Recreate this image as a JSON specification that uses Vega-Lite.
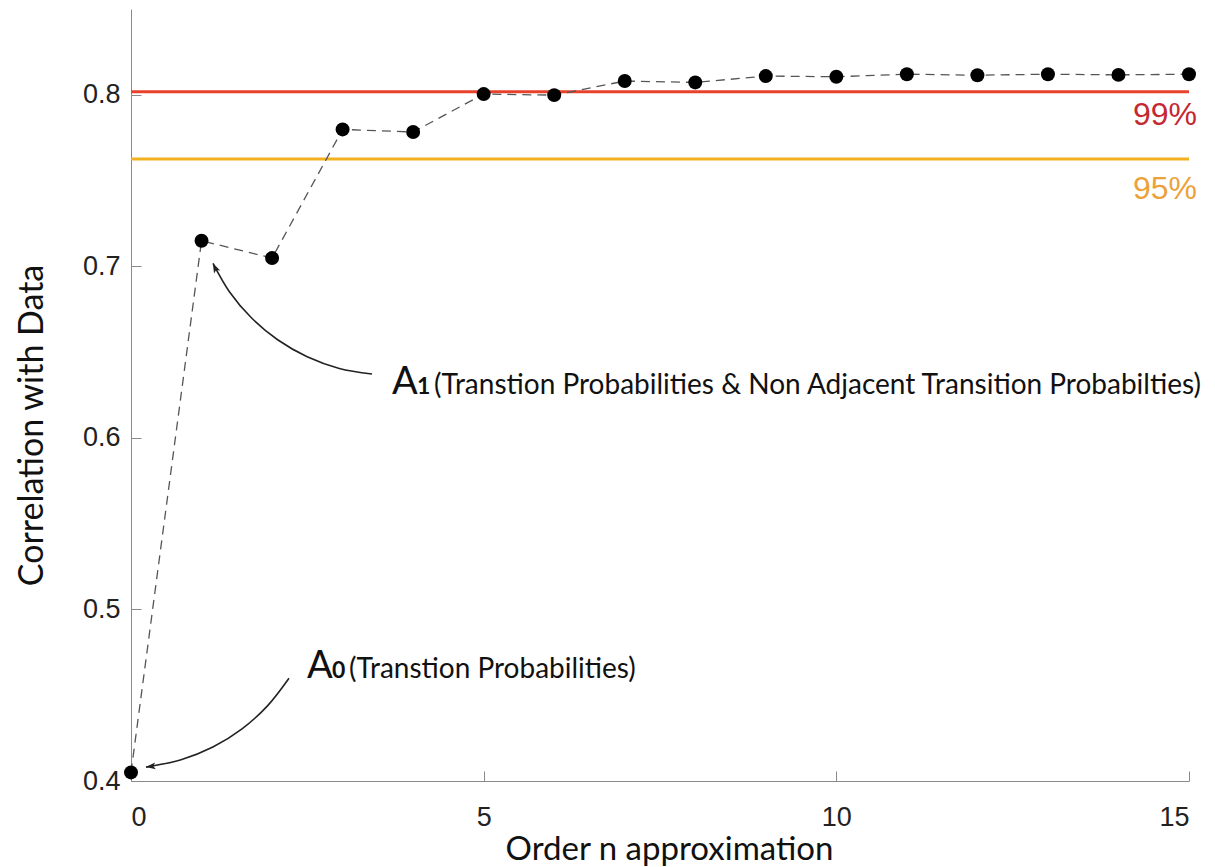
{
  "$schema": "https://vega.github.io/schema/vega-lite/v6.json",
  "width": 1058,
  "height": 772,
  "autosize": {"type": "none"},
  "padding": {"left": 131, "top": 9, "right": 26, "bottom": 86},
  "background": "white",
  "config": {"view": {"stroke": null}},
  "datasets": {
    "series": [
      {"n": 0, "corr": 0.4050},
      {"n": 1, "corr": 0.7149},
      {"n": 2, "corr": 0.7048},
      {"n": 3, "corr": 0.7798},
      {"n": 4, "corr": 0.7783},
      {"n": 5, "corr": 0.8004},
      {"n": 6, "corr": 0.7998},
      {"n": 7, "corr": 0.8080},
      {"n": 8, "corr": 0.8072},
      {"n": 9, "corr": 0.8109},
      {"n": 10, "corr": 0.8105},
      {"n": 11, "corr": 0.8120},
      {"n": 12, "corr": 0.8114},
      {"n": 13, "corr": 0.8120},
      {"n": 14, "corr": 0.8116},
      {"n": 15, "corr": 0.8120}
    ],
    "thresholds": [
      {"level": "99%", "value": 0.8017, "labelY": 0.7826},
      {"level": "95%", "value": 0.7626, "labelY": 0.7395}
    ],
    "arrows": [
      {"id": "A1", "x": 3.417, "y": 0.6372},
      {"id": "A1", "x": 2.953, "y": 0.6405},
      {"id": "A1", "x": 2.498, "y": 0.6473},
      {"id": "A1", "x": 2.079, "y": 0.6572},
      {"id": "A1", "x": 1.707, "y": 0.6700},
      {"id": "A1", "x": 1.395, "y": 0.6852},
      {"id": "A1", "x": 1.163, "y": 0.7017},
      {"id": "A0", "x": 2.240, "y": 0.4599},
      {"id": "A0", "x": 1.935, "y": 0.4438},
      {"id": "A0", "x": 1.574, "y": 0.4304},
      {"id": "A0", "x": 1.161, "y": 0.4198},
      {"id": "A0", "x": 0.710, "y": 0.4124},
      {"id": "A0", "x": 0.213, "y": 0.4081}
    ],
    "heads": [
      {"id": "A1", "x": 1.193, "y": 0.6991},
      {"id": "A0", "x": 0.284, "y": 0.4085}
    ],
    "notes": [
      {"id": "A1", "A": "A", "sub": "1", "desc": "(Transtion Probabilities & Non Adjacent Transition Probabilties)", "x": 3.70, "y": 0.6256},
      {"id": "A0", "A": "A", "sub": "0", "desc": "(Transtion Probabilities)", "x": 2.495, "y": 0.4599}
    ]
  },
  "encoding": {
    "x": {
      "type": "quantitative",
      "scale": {"domain": [0, 15], "nice": false, "zero": false},
      "axis": {
        "values": [0, 5, 10, 15],
        "title": "Order n approximation",
        "grid": false,
        "domainColor": "#8a8a8a",
        "tickColor": "#8a8a8a",
        "tickSize": -10,
        "labelFont": "Liberation Sans",
        "labelFontSize": 27,
        "labelColor": "#222222",
        "labelPadding": 33,
        "titleFont": "Lato",
        "titleFontSize": 33,
        "titleFontWeight": "normal",
        "titleColor": "#111111",
        "titleX": 538,
        "titleY": 78,
        "titleBaseline": "alphabetic"
      }
    },
    "y": {
      "type": "quantitative",
      "scale": {"domain": [0.4, 0.85], "nice": false, "zero": false},
      "axis": {
        "values": [0.4, 0.5, 0.6, 0.7, 0.8],
        "format": ".1f",
        "title": "Correlation with Data",
        "grid": false,
        "domainColor": "#8a8a8a",
        "tickColor": "#8a8a8a",
        "tickSize": -10,
        "labelFont": "Liberation Sans",
        "labelFontSize": 27,
        "labelColor": "#222222",
        "labelPadding": 21,
        "titleFont": "Lato",
        "titleFontSize": 34,
        "titleFontWeight": "normal",
        "titleColor": "#111111",
        "titleAngle": -90,
        "titleX": -89,
        "titleY": 416,
        "titleBaseline": "alphabetic"
      }
    }
  },
  "layer": [
    {
      "data": {"name": "thresholds"},
      "mark": {"type": "rule", "strokeWidth": 3},
      "encoding": {
        "y": {"field": "value"},
        "color": {"field": "level", "type": "nominal", "scale": {"domain": ["99%", "95%"], "range": ["#e8412c", "#f2b01e"]}, "legend": null}
      }
    },
    {
      "data": {"name": "thresholds"},
      "mark": {"type": "text", "align": "right", "baseline": "alphabetic", "font": "Liberation Sans", "fontSize": 32, "dx": 8},
      "encoding": {
        "x": {"datum": 15},
        "y": {"field": "labelY"},
        "text": {"field": "level"},
        "color": {"field": "level", "type": "nominal", "scale": {"domain": ["99%", "95%"], "range": ["#c42832", "#eba23a"]}, "legend": null}
      }
    },
    {
      "data": {"name": "series"},
      "mark": {"type": "line", "color": "#555555", "strokeWidth": 1.3, "strokeDash": [9, 6]},
      "encoding": {"x": {"field": "n"}, "y": {"field": "corr"}}
    },
    {
      "data": {"name": "series"},
      "mark": {"type": "point", "shape": "circle", "filled": true, "color": "#000000", "opacity": 1, "size": 195},
      "encoding": {"x": {"field": "n"}, "y": {"field": "corr"}}
    },
    {
      "data": {"name": "arrows"},
      "mark": {"type": "line", "color": "#222222", "strokeWidth": 1.6, "interpolate": "catmull-rom"},
      "encoding": {"x": {"field": "x"}, "y": {"field": "y"}, "detail": {"field": "id"}}
    },
    {
      "data": {"name": "heads"},
      "transform": [{"filter": "datum.id === 'A1'"}],
      "mark": {"type": "point", "shape": "M0,-1L0.65,0.85L0,0.45L-0.65,0.85Z", "filled": true, "color": "#222222", "opacity": 1, "size": 110, "angle": 334},
      "encoding": {"x": {"field": "x"}, "y": {"field": "y"}}
    },
    {
      "data": {"name": "heads"},
      "transform": [{"filter": "datum.id === 'A0'"}],
      "mark": {"type": "point", "shape": "M0,-1L0.65,0.85L0,0.45L-0.65,0.85Z", "filled": true, "color": "#222222", "opacity": 1, "size": 110, "angle": 263},
      "encoding": {"x": {"field": "x"}, "y": {"field": "y"}}
    },
    {
      "data": {"name": "notes"},
      "mark": {"type": "text", "align": "left", "baseline": "alphabetic", "font": "Lato", "fontSize": 38, "color": "#111111"},
      "encoding": {"x": {"field": "x"}, "y": {"field": "y"}, "text": {"field": "A"}}
    },
    {
      "data": {"name": "notes"},
      "mark": {"type": "text", "align": "left", "baseline": "alphabetic", "font": "Lato", "fontSize": 23, "fontWeight": "bold", "color": "#111111", "dx": 25},
      "encoding": {"x": {"field": "x"}, "y": {"field": "y"}, "text": {"field": "sub"}}
    },
    {
      "data": {"name": "notes"},
      "mark": {"type": "text", "align": "left", "baseline": "alphabetic", "font": "Lato", "fontSize": 28, "color": "#111111", "dx": 42},
      "encoding": {"x": {"field": "x"}, "y": {"field": "y"}, "text": {"field": "desc"}}
    }
  ],
  "resolve": {"scale": {"color": "independent"}}
}
